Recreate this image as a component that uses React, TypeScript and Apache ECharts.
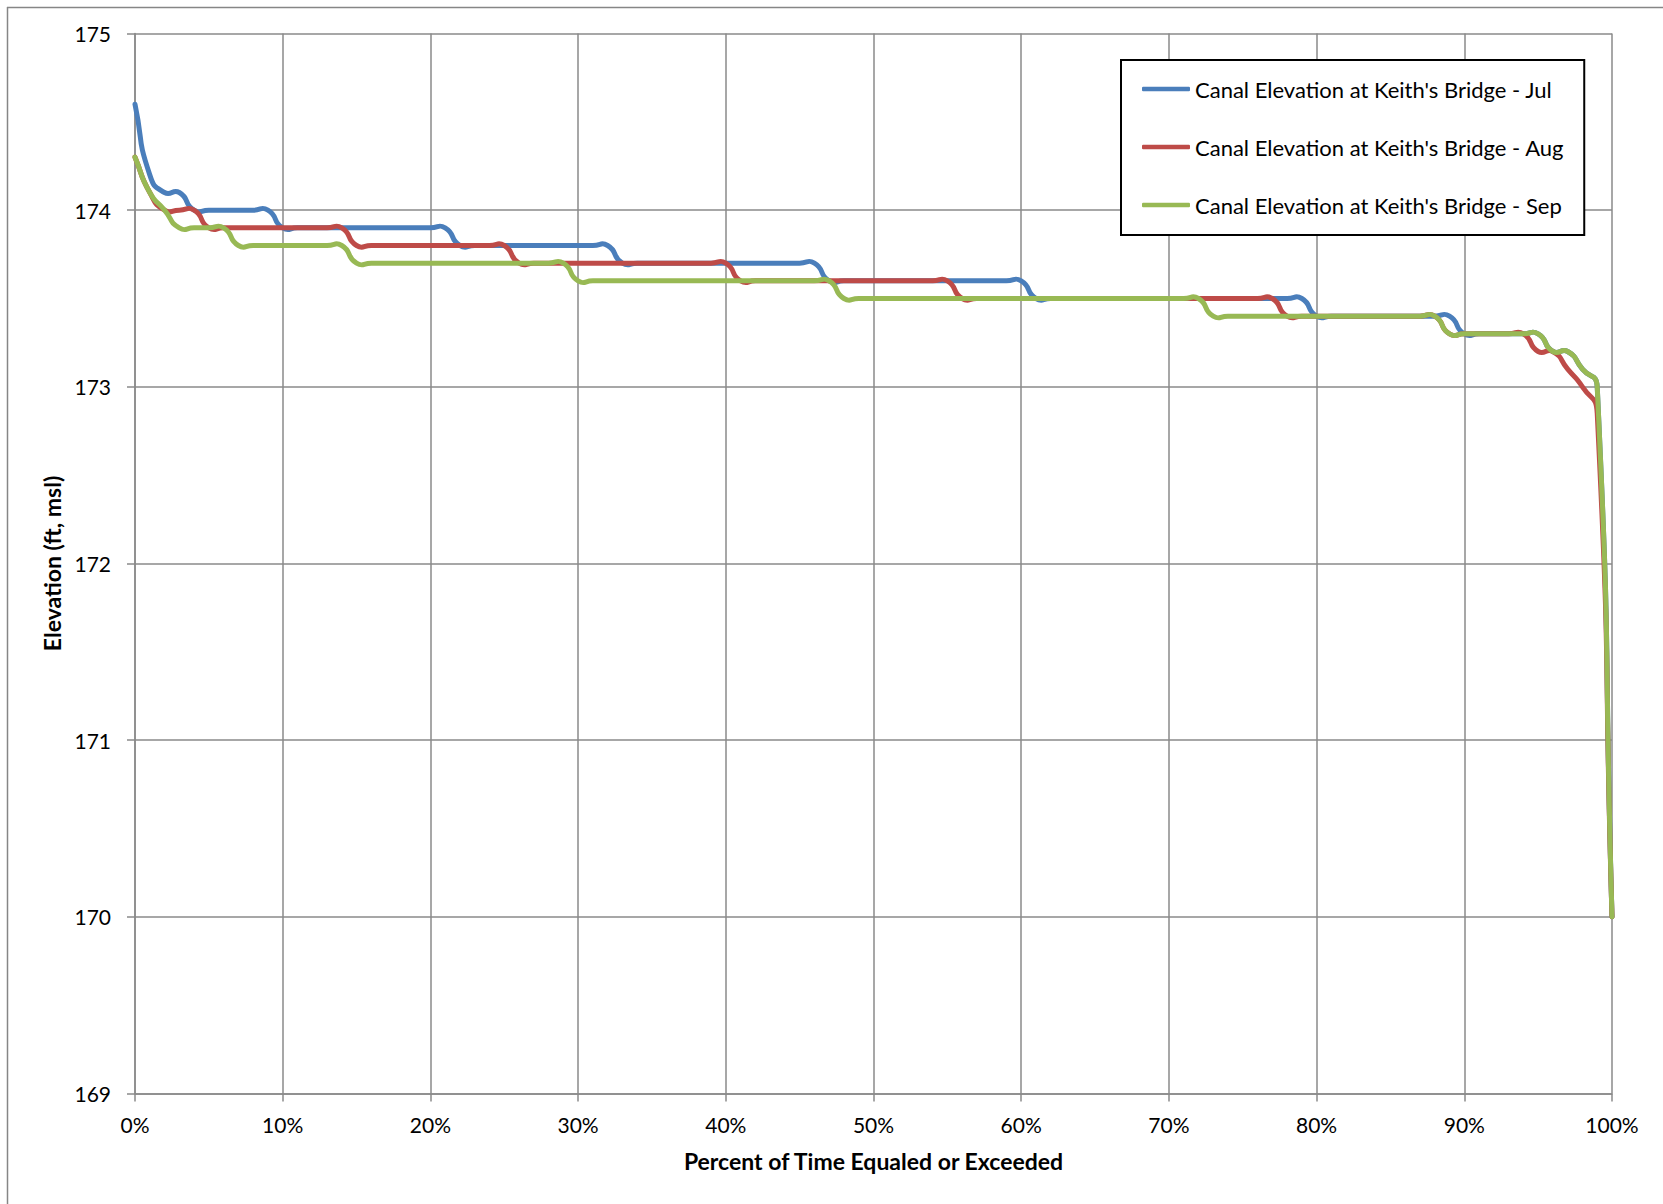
import React, { useEffect, useRef } from "react";
import * as echarts from "echarts";

// Percent of time equaled or exceeded (x values)
const PERCENT = [
  0, 1, 2, 3, 4, 5, 6, 7, 8, 9,
  10, 11, 12, 13, 14, 15, 16, 17, 18, 19,
  20, 21, 22, 23, 24, 25, 26, 27, 28, 29,
  30, 31, 32, 33, 34, 35, 36, 37, 38, 39,
  40, 41, 42, 43, 44, 45, 46, 47, 48, 49,
  50, 51, 52, 53, 54, 55, 56, 57, 58, 59,
  60, 61, 62, 63, 64, 65, 66, 67, 68, 69,
  70, 71, 72, 73, 74, 75, 76, 77, 78, 79,
  80, 81, 82, 83, 84, 85, 86, 87, 88, 89,
  90, 91, 92, 93, 94, 95, 96, 97, 98, 99,
  100,
];

// Canal elevation (ft, msl) at Keith's Bridge - July
const JUL = [
  174.6, 174.2, 174.1, 174.1, 174.0, 174.0, 174.0, 174.0, 174.0, 174.0,
  173.9, 173.9, 173.9, 173.9, 173.9, 173.9, 173.9, 173.9, 173.9, 173.9,
  173.9, 173.9, 173.8, 173.8, 173.8, 173.8, 173.8, 173.8, 173.8, 173.8,
  173.8, 173.8, 173.8, 173.7, 173.7, 173.7, 173.7, 173.7, 173.7, 173.7,
  173.7, 173.7, 173.7, 173.7, 173.7, 173.7, 173.7, 173.6, 173.6, 173.6,
  173.6, 173.6, 173.6, 173.6, 173.6, 173.6, 173.6, 173.6, 173.6, 173.6,
  173.6, 173.5, 173.5, 173.5, 173.5, 173.5, 173.5, 173.5, 173.5, 173.5,
  173.5, 173.5, 173.5, 173.5, 173.5, 173.5, 173.5, 173.5, 173.5, 173.5,
  173.4, 173.4, 173.4, 173.4, 173.4, 173.4, 173.4, 173.4, 173.4, 173.4,
  173.3, 173.3, 173.3, 173.3, 173.3, 173.3, 173.2, 173.2, 173.1, 173.0,
  170.0,
];

// August
const AUG = [
  174.3, 174.1, 174.0, 174.0, 174.0, 173.9, 173.9, 173.9, 173.9, 173.9,
  173.9, 173.9, 173.9, 173.9, 173.9, 173.8, 173.8, 173.8, 173.8, 173.8,
  173.8, 173.8, 173.8, 173.8, 173.8, 173.8, 173.7, 173.7, 173.7, 173.7,
  173.7, 173.7, 173.7, 173.7, 173.7, 173.7, 173.7, 173.7, 173.7, 173.7,
  173.7, 173.6, 173.6, 173.6, 173.6, 173.6, 173.6, 173.6, 173.6, 173.6,
  173.6, 173.6, 173.6, 173.6, 173.6, 173.6, 173.5, 173.5, 173.5, 173.5,
  173.5, 173.5, 173.5, 173.5, 173.5, 173.5, 173.5, 173.5, 173.5, 173.5,
  173.5, 173.5, 173.5, 173.5, 173.5, 173.5, 173.5, 173.5, 173.4, 173.4,
  173.4, 173.4, 173.4, 173.4, 173.4, 173.4, 173.4, 173.4, 173.4, 173.3,
  173.3, 173.3, 173.3, 173.3, 173.3, 173.2, 173.2, 173.1, 173.0, 172.85,
  170.0,
];

// September
const SEP = [
  174.3, 174.1, 174.0, 173.9, 173.9, 173.9, 173.9, 173.8, 173.8, 173.8,
  173.8, 173.8, 173.8, 173.8, 173.8, 173.7, 173.7, 173.7, 173.7, 173.7,
  173.7, 173.7, 173.7, 173.7, 173.7, 173.7, 173.7, 173.7, 173.7, 173.7,
  173.6, 173.6, 173.6, 173.6, 173.6, 173.6, 173.6, 173.6, 173.6, 173.6,
  173.6, 173.6, 173.6, 173.6, 173.6, 173.6, 173.6, 173.6, 173.5, 173.5,
  173.5, 173.5, 173.5, 173.5, 173.5, 173.5, 173.5, 173.5, 173.5, 173.5,
  173.5, 173.5, 173.5, 173.5, 173.5, 173.5, 173.5, 173.5, 173.5, 173.5,
  173.5, 173.5, 173.5, 173.4, 173.4, 173.4, 173.4, 173.4, 173.4, 173.4,
  173.4, 173.4, 173.4, 173.4, 173.4, 173.4, 173.4, 173.4, 173.4, 173.3,
  173.3, 173.3, 173.3, 173.3, 173.3, 173.3, 173.2, 173.2, 173.1, 173.0,
  170.0,
];

const SERIES_NAMES = [
  "Canal Elevation at Keith's Bridge - Jul",
  "Canal Elevation at Keith's Bridge - Aug",
  "Canal Elevation at Keith's Bridge - Sep",
];
const SERIES_VALUES = [JUL, AUG, SEP];
const COLORS = ["#4A7EBB", "#BE4B48", "#98B954"];

const X_TITLE = "Percent of Time Equaled or Exceeded";
const Y_TITLE = "Elevation (ft, msl)";
const X_MIN = 0;
const X_MAX = 100;
const X_STEP = 10;
const Y_MIN = 169;
const Y_MAX = 175;
const Y_STEP = 1;

// Excel-like smoothed curve (allows slight overshoot like Excel's smoothing)
const SMOOTH = 0.6;

function smoothPath(pts: number[][]): string {
  const n = pts.length;
  if (n === 0) return "";
  let d = `M${pts[0][0]},${pts[0][1]}`;
  const cps: { c0: number[]; c1: number[] }[] = [];
  for (let i = 0; i < n; i++) {
    const cur = pts[i];
    const prev = pts[i - 1] || cur;
    const next = pts[i + 1] || cur;
    const vx = next[0] - prev[0];
    const vy = next[1] - prev[1];
    const lp = Math.hypot(cur[0] - prev[0], cur[1] - prev[1]);
    const ln = Math.hypot(next[0] - cur[0], next[1] - cur[1]);
    const ratio = lp + ln > 0 ? ln / (lp + ln) : 0.5;
    let c0x = cur[0] - vx * SMOOTH * (1 - ratio);
    const c0y = cur[1] - vy * SMOOTH * (1 - ratio);
    let c1x = cur[0] + vx * SMOOTH * ratio;
    const c1y = cur[1] + vy * SMOOTH * ratio;
    c0x = Math.max(Math.min(c0x, Math.max(prev[0], cur[0])), Math.min(prev[0], cur[0]));
    c1x = Math.max(Math.min(c1x, Math.max(next[0], cur[0])), Math.min(next[0], cur[0]));
    cps.push({ c0: [c0x, c0y], c1: [c1x, c1y] });
  }
  for (let i = 0; i < n - 1; i++) {
    const a = cps[i].c1;
    const b = cps[i + 1].c0;
    const p = pts[i + 1];
    d += ` C${a[0]},${a[1]} ${b[0]},${b[1]} ${p[0]},${p[1]}`;
  }
  return d;
}

export default function App() {
  const ref = useRef<HTMLDivElement>(null);

  useEffect(() => {
    if (!ref.current) return;
    const chart = echarts.init(ref.current, null, { renderer: "svg" });
    const font = "Lato";
    const gridColor = "#8a8a8a";

    chart.setOption({
      animation: false,
      backgroundColor: "#ffffff",
      textStyle: { fontFamily: font },
      graphic: [
        {
          type: "line",
          shape: { x1: 7.5, y1: 7, x2: 7.5, y2: 1204 },
          style: { stroke: "#868686", lineWidth: 1.5 },
          silent: true,
        },
        {
          type: "line",
          shape: { x1: 7, y1: 7.5, x2: 1663, y2: 7.5 },
          style: { stroke: "#868686", lineWidth: 1.5 },
          silent: true,
        },
      ],
      grid: {
        left: 135,
        top: 33.5,
        width: 1477,
        height: 1060,
        containLabel: false,
        outerBoundsMode: "none",
      },
      legend: {
        orient: "vertical",
        left: 1121,
        top: 60,
        backgroundColor: "#ffffff",
        borderColor: "#000000",
        borderWidth: 2,
        borderRadius: 0,
        padding: [18, 20, 19, 21],
        itemWidth: 48,
        itemHeight: 4.5,
        itemGap: 36,
        icon: "roundRect",
        textStyle: { fontSize: 22, color: "#000000", lineHeight: 22, fontFamily: font },
        data: SERIES_NAMES,
      },
      xAxis: {
        type: "value",
        min: X_MIN,
        max: X_MAX,
        interval: X_STEP,
        name: X_TITLE,
        nameLocation: "middle",
        nameGap: 56,
        nameTextStyle: { fontSize: 23, fontWeight: "bold", color: "#000000", fontFamily: font },
        axisLine: { show: true, lineStyle: { color: gridColor, width: 1.5 } },
        axisTick: { show: true, length: 8, lineStyle: { color: gridColor, width: 1.5 } },
        axisLabel: {
          formatter: "{value}%",
          fontSize: 21,
          color: "#000000",
          margin: 20,
          fontFamily: font,
        },
        splitLine: { show: true, lineStyle: { color: gridColor, width: 1.5 } },
      },
      yAxis: {
        type: "value",
        min: Y_MIN,
        max: Y_MAX,
        interval: Y_STEP,
        name: Y_TITLE,
        nameLocation: "middle",
        nameGap: 72,
        nameTextStyle: { fontSize: 23, fontWeight: "bold", color: "#000000", fontFamily: font },
        axisLine: { show: true, lineStyle: { color: gridColor, width: 1.5 } },
        axisTick: { show: true, length: 8, lineStyle: { color: gridColor, width: 1.5 } },
        axisLabel: { fontSize: 21, color: "#000000", margin: 24, fontFamily: font },
        splitLine: { show: true, lineStyle: { color: gridColor, width: 1.5 } },
      },
      series: SERIES_NAMES.map((name, i) => {
        const values = SERIES_VALUES[i];
        const data = PERCENT.map((p, j) => [p, values[j]]);
        return {
          name,
          type: "custom",
          coordinateSystem: "cartesian2d",
          color: COLORS[i],
          itemStyle: { color: COLORS[i] },
          encode: { x: 0, y: 1 },
          data,
          renderItem: (params: any, api: any) => {
            if (params.dataIndex !== 0) return { type: "group", children: [] };
            const pts = data.map((pt) => api.coord(pt));
            return {
              type: "path",
              shape: { pathData: smoothPath(pts) },
              style: {
                fill: "none",
                stroke: COLORS[i],
                lineWidth: 5,
                lineJoin: "round",
                lineCap: "round",
              },
              silent: true,
            };
          },
        };
      }),
    });

    return () => chart.dispose();
  }, []);

  return (
    <div
      ref={ref}
      style={{ position: "absolute", left: 0, top: 0, width: 1663, height: 1204 }}
    />
  );
}
